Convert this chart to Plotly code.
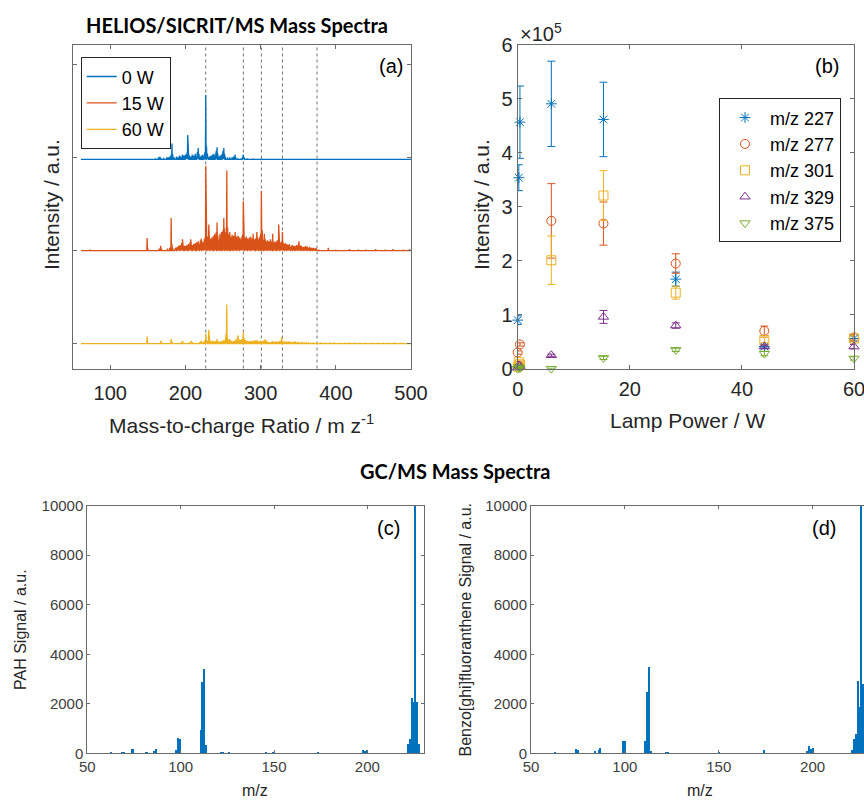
import plotly.graph_objects as go

# ---------------- HELIOS/SICRIT/MS spectra (relative intensity, stacked) ----------------
spec_labels = ["0 W", "15 W", "60 W"]
spec_colors = ["#0072BD", "#D95319", "#EDB120"]
spec_offsets = [1.98, 1.0, 0.0]

# 0 W spectrum: peak m/z and height
mz_0w = [150, 160, 164, 166, 168, 171, 175, 177, 179, 181, 182, 183, 185, 188, 190, 192, 194,
         196, 198, 200, 201, 202, 203, 204, 205, 207, 209, 211, 213, 215, 216, 217, 218, 219,
         221, 223, 225, 226, 227, 228, 229, 230, 232, 234, 236, 238, 240, 241, 242, 243, 244,
         246, 248, 249, 250, 251, 252, 253, 256, 259, 262, 264, 266, 267, 270, 274, 276, 277,
         278, 282, 290, 301]
h_0w = [0.005, 0.01, 0.02, 0.03, 0.01, 0.015, 0.02, 0.02, 0.03, 0.05, 0.17, 0.05, 0.02, 0.03,
        0.02, 0.04, 0.03, 0.05, 0.04, 0.05, 0.04, 0.07, 0.26, 0.08, 0.04, 0.03, 0.05, 0.04, 0.06,
        0.05, 0.08, 0.12, 0.06, 0.03, 0.04, 0.05, 0.06, 0.08, 0.69, 0.14, 0.06, 0.04, 0.03, 0.04,
        0.05, 0.06, 0.07, 0.09, 0.13, 0.06, 0.03, 0.04, 0.05, 0.07, 0.09, 0.12, 0.06, 0.03, 0.02,
        0.02, 0.02, 0.03, 0.05, 0.02, 0.01, 0.01, 0.02, 0.05, 0.02, 0.005, 0.005, 0.01]

# 15 W spectrum: isolated peaks plus a dense band of unit-mass peaks from m/z 186 to 375
mz_15w = [73, 149, 150, 165, 167, 168, 176, 179, 181, 182, 183,
          378, 390, 400, 418, 430, 440, 453, 466, 476, 490, 498]
h_15w = [0.01, 0.135, 0.02, 0.02, 0.05, 0.02, 0.02, 0.03, 0.35, 0.07, 0.03,
         0.01, 0.03, 0.01, 0.015, 0.01, 0.01, 0.015, 0.01, 0.015, 0.01, 0.015]
band_start_15w = 186
band_15w = [
    0.02, 0.03, 0.02, 0.04, 0.03, 0.05, 0.04, 0.06, 0.05, 0.08,
    0.12, 0.07, 0.05, 0.04, 0.05, 0.04, 0.06, 0.05, 0.07, 0.06,
    0.09, 0.12, 0.08, 0.06, 0.05, 0.07, 0.06, 0.08, 0.07, 0.09,
    0.08, 0.10, 0.07, 0.09, 0.11, 0.13, 0.10, 0.08, 0.09, 0.12,
    0.14, 0.91, 0.22, 0.15, 0.12, 0.28, 0.16, 0.13, 0.11, 0.14,
    0.12, 0.16, 0.13, 0.18, 0.15, 0.20, 0.30, 0.16, 0.14, 0.15,
    0.18, 0.14, 0.20, 0.17, 0.22, 0.35, 0.24, 0.18, 0.20, 0.86,
    0.25, 0.18, 0.16, 0.20, 0.15, 0.14, 0.17, 0.13, 0.16, 0.14,
    0.20, 0.12, 0.15, 0.13, 0.16, 0.12, 0.14, 0.11, 0.13, 0.15,
    0.17, 0.53, 0.20, 0.14, 0.12, 0.15, 0.11, 0.13, 0.10, 0.14,
    0.12, 0.15, 0.11, 0.13, 0.18, 0.12, 0.10, 0.13, 0.11, 0.20,
    0.14, 0.12, 0.10, 0.15, 0.18, 0.64, 0.22, 0.13, 0.11, 0.18,
    0.12, 0.10, 0.09, 0.11, 0.08, 0.10, 0.09, 0.12, 0.10, 0.08,
    0.18, 0.09, 0.08, 0.10, 0.07, 0.09, 0.11, 0.08, 0.28, 0.12,
    0.09, 0.08, 0.10, 0.20, 0.09, 0.07, 0.06, 0.08, 0.06, 0.07,
    0.05, 0.06, 0.07, 0.05, 0.04, 0.05, 0.06, 0.04, 0.05, 0.04,
    0.05, 0.04, 0.06, 0.05, 0.07, 0.10, 0.06, 0.04, 0.05, 0.03,
    0.04, 0.03, 0.04, 0.03, 0.05, 0.03, 0.04, 0.03, 0.03, 0.04,
    0.03, 0.02, 0.03, 0.02, 0.03, 0.02, 0.02, 0.03, 0.02, 0.02,
]

# 60 W spectrum
mz_60w = [73, 149, 150, 167, 168, 180, 181, 182, 194, 196, 197, 205, 207, 208, 209, 218, 220,
          221, 222, 224, 226, 227, 228, 229, 231, 232, 234, 236, 238, 240, 242, 243, 245, 247,
          249, 251, 253, 254, 255, 256, 257, 259, 261, 263, 265, 267, 269, 270, 271, 273, 275,
          277, 278, 280, 282, 284, 286, 288, 290, 292, 294, 296, 298, 300, 302, 304, 306, 308,
          310, 312, 314, 316, 318, 320, 322, 324, 326, 328, 330, 332, 334, 336, 338, 340, 342,
          344, 346, 348, 350, 352, 355, 358, 361, 364, 367, 370, 375, 380, 386, 392, 398, 405,
          412, 418, 425, 432, 440, 448, 456, 463, 470, 478, 486]
h_60w = [0.005, 0.08, 0.01, 0.03, 0.01, 0.015, 0.05, 0.015, 0.01, 0.03, 0.01, 0.015, 0.025,
         0.03, 0.015, 0.015, 0.02, 0.03, 0.015, 0.02, 0.04, 0.11, 0.04, 0.03, 0.15, 0.05, 0.03,
         0.025, 0.03, 0.025, 0.05, 0.03, 0.02, 0.025, 0.03, 0.04, 0.06, 0.10, 0.42, 0.07, 0.04,
         0.05, 0.03, 0.025, 0.03, 0.05, 0.06, 0.09, 0.05, 0.04, 0.05, 0.12, 0.06, 0.04, 0.03,
         0.025, 0.03, 0.025, 0.03, 0.035, 0.04, 0.03, 0.025, 0.03, 0.025, 0.035, 0.05, 0.03,
         0.02, 0.015, 0.02, 0.025, 0.02, 0.025, 0.02, 0.025, 0.03, 0.07, 0.025, 0.02, 0.025,
         0.02, 0.025, 0.02, 0.015, 0.02, 0.025, 0.015, 0.02, 0.015, 0.02, 0.015, 0.02, 0.015,
         0.01, 0.015, 0.01, 0.015, 0.01, 0.015, 0.01, 0.012, 0.01, 0.015, 0.01, 0.01, 0.012,
         0.01, 0.01, 0.01, 0.012, 0.015, 0.01]

marker_mz = [227, 277, 301, 329, 375]
spec_ticks_x = [100, 200, 300, 400, 500]

# ---------------- Ion intensity vs lamp power ----------------
lamp_power = [0, 0.2, 0.4, 6, 15.3, 28.2, 44, 60]
ion_labels = ["m/z 227", "m/z 277", "m/z 301", "m/z 329", "m/z 375"]
ion_colors = ["#0072BD", "#D95319", "#EDB120", "#7E2F8E", "#77AC30"]
ion_symbols = ["asterisk-open", "circle-open", "square-open", "triangle-up-open", "triangle-down-open"]
ion_values = [
    [0.90e5, 3.54e5, 4.57e5, 4.91e5, 4.62e5, 1.66e5, 0.41e5, 0.56e5],
    [0.30e5, 0.06e5, 0.45e5, 2.74e5, 2.69e5, 1.95e5, 0.70e5, 0.58e5],
    [0.04e5, 0.12e5, 0.08e5, 2.01e5, 3.21e5, 1.41e5, 0.53e5, 0.56e5],
    [0.02e5, 0.06e5, 0.05e5, 0.25e5, 0.96e5, 0.80e5, 0.41e5, 0.41e5],
    [0.00e5, 0.03e5, 0.01e5, 0.00e5, 0.20e5, 0.35e5, 0.28e5, 0.19e5],
]
ion_errors = [
    [0.08e5, 0.24e5, 0.67e5, 0.79e5, 0.69e5, 0.13e5, 0.03e5, 0.05e5],
    [0.03e5, 0.01e5, 0.03e5, 0.69e5, 0.40e5, 0.18e5, 0.09e5, 0.05e5],
    [0.01e5, 0.02e5, 0.01e5, 0.45e5, 0.46e5, 0.12e5, 0.05e5, 0.05e5],
    [0.01e5, 0.01e5, 0.01e5, 0.02e5, 0.12e5, 0.05e5, 0.03e5, 0.04e5],
    [0.01e5, 0.01e5, 0.01e5, 0.01e5, 0.03e5, 0.03e5, 0.04e5, 0.03e5],
]
power_ticks = [0, 20, 40, 60]
intensity_ticks = [0, 1e5, 2e5, 3e5, 4e5, 5e5, 6e5]
intensity_ticktext = ["0", "1", "2", "3", "4", "5", "6"]

# ---------------- GC/MS spectra ----------------
pah_mz = [63, 69, 70, 74, 75, 82, 86, 87, 98, 99, 100, 111, 112, 113, 114, 122, 123, 126,
          146, 150, 174, 198, 199, 200, 222, 223, 224, 225, 226, 227, 228]
pah_signal = [40, 80, 50, 180, 200, 50, 120, 200, 130, 650, 600, 950, 2900, 3400, 330, 40, 40,
              30, 30, 40, 50, 150, 100, 130, 400, 600, 2250, 2100, 12000, 2100, 400]

bghif_mz = [63, 74, 75, 84, 86, 87, 99, 100, 111, 112, 113, 114, 122, 123, 150, 174,
            197, 198, 199, 200, 221, 222, 223, 224, 225, 226, 227]
bghif_signal = [80, 180, 150, 100, 150, 220, 500, 520, 520, 2500, 3500, 100, 80, 80, 60, 130,
                100, 300, 200, 220, 130, 600, 780, 2950, 1900, 12000, 2800]
gc_ticks_x = [50, 100, 150, 200]
gc_ticks_y = [0, 2000, 4000, 6000, 8000, 10000]
gc_ticktext_y = ["0", "2000", "4000", "6000", "8000", "10000"]


def stick_line(mz, h, offset, start=61, end=500):
    """Continuous spectrum line made of narrow spikes at each peak."""
    pairs = sorted(zip(mz, h))
    xs, ys = [start], [offset]
    for m, v in pairs:
        xs += [m - 0.45, m, m + 0.45]
        ys += [offset, offset + v, offset]
    xs.append(end)
    ys.append(offset)
    return xs, ys


W, H = 864, 800
def px(x):
    return x / W
def py(y):
    return 1 - y / H

FONT = "Liberation Sans, Arial, sans-serif"
TXT = "#262626"
AX = "#6b6b6b"

fig = go.Figure()

# ---- spectra traces
full_15w_mz = mz_15w + [band_start_15w + i for i in range(len(band_15w))]
full_15w_h = h_15w + band_15w
spectra = [(mz_0w, h_0w), (full_15w_mz, full_15w_h), (mz_60w, h_60w)]
for (mz, h), lab, col, off in zip(spectra, spec_labels, spec_colors, spec_offsets):
    xs, ys = stick_line(mz, h, off)
    fig.add_trace(go.Scatter(x=xs, y=ys, mode="lines", name=lab,
                             line=dict(color=col, width=1.3),
                             xaxis="x", yaxis="y", legend="legend"))

for m in marker_mz:
    fig.add_shape(type="line", x0=m, x1=m, y0=0, y1=1, xref="x", yref="y domain",
                  line=dict(color="#6e6e6e", width=1, dash="dot"), layer="below")

# ---- lamp power traces
for vals, errs, lab, col, sym in zip(ion_values, ion_errors, ion_labels, ion_colors, ion_symbols):
    fig.add_trace(go.Scatter(
        x=lamp_power, y=vals, mode="markers", name=lab,
        marker=dict(symbol=sym, size=9, color=col, line=dict(color=col, width=1)),
        error_y=dict(type="data", array=errs, visible=True, color=col, thickness=1, width=4),
        cliponaxis=False, xaxis="x2", yaxis="y2", legend="legend2"))

# ---- GC/MS bars
fig.add_trace(go.Bar(x=pah_mz, y=pah_signal, width=0.85, marker=dict(color="#0072BD", line=dict(width=0)),
                     showlegend=False, xaxis="x3", yaxis="y3"))
fig.add_trace(go.Bar(x=bghif_mz, y=bghif_signal, width=0.6, marker=dict(color="#0072BD", line=dict(width=0)),
                     showlegend=False, xaxis="x4", yaxis="y4"))

common = dict(showgrid=False, zeroline=False, showline=True, linecolor=AX, linewidth=1,
              ticks="inside", tickcolor=AX, mirror="ticks", automargin=False,
              ticklabeloverflow="allow")
big_tick = dict(size=20, color=TXT, family=FONT)
small_tick = dict(size=15, color="#404040", family=FONT)

fig.update_layout(
    width=W, height=H, autosize=False,
    margin=dict(l=0, r=0, t=0, b=0, pad=0, autoexpand=False),
    paper_bgcolor="white", plot_bgcolor="white",
    font=dict(family=FONT, color=TXT),
    xaxis=dict(domain=[px(72.7), px(411)], range=[50, 500], tickvals=spec_ticks_x,
               ticklen=4, tickfont=big_tick, ticklabelstandoff=6, anchor="y", **common),
    yaxis=dict(domain=[py(368.5), py(44.7)], range=[-0.266, 3.21], tickvals=[0, 1, 2, 3],
               showticklabels=False, ticklen=4, anchor="x", **common),
    xaxis2=dict(domain=[px(517.7), px(854)], range=[0, 60], tickvals=power_ticks,
                ticklen=4, tickfont=big_tick, ticklabelstandoff=2, anchor="y2", **common),
    yaxis2=dict(domain=[py(368.7), py(45)], range=[0, 6e5], tickvals=intensity_ticks,
                ticktext=intensity_ticktext, ticklen=4, tickfont=big_tick, anchor="x2", **common),
    xaxis3=dict(domain=[px(87.3), px(424.3)], range=[50, 230.5], tickvals=gc_ticks_x,
                ticklen=3, tickfont=small_tick, anchor="y3", **common),
    yaxis3=dict(domain=[py(753.3), py(505.7)], range=[0, 10000], tickvals=gc_ticks_y,
                ticktext=gc_ticktext_y, ticklen=3, tickfont=small_tick, anchor="x3", **common),
    xaxis4=dict(domain=[px(531), 1.0], range=[50, 227.4], tickvals=gc_ticks_x,
                ticklen=3, tickfont=small_tick, anchor="y4", **common),
    yaxis4=dict(domain=[py(753.3), py(505.7)], range=[0, 10000], tickvals=gc_ticks_y,
                ticktext=gc_ticktext_y, ticklen=3, tickfont=small_tick, anchor="x4",
                showgrid=False, zeroline=False, showline=True, linecolor=AX, linewidth=1,
                ticks="inside", tickcolor=AX, mirror=False, automargin=False),
    bargap=0,
    legend=dict(x=px(80.7), y=py(57.3), xanchor="left", yanchor="top",
                bgcolor="white", bordercolor=TXT, borderwidth=1,
                font=dict(size=18, color="#000000", family=FONT), tracegroupgap=0),
    legend2=dict(x=px(719), y=py(98.3), xanchor="left", yanchor="top",
                 bgcolor="white", bordercolor=TXT, borderwidth=1, itemwidth=40,
                 font=dict(size=18, color="#000000", family=FONT), tracegroupgap=0),
)

ann = []
def label(text, x, y, size, color=TXT, angle=0, family=FONT, xanchor="center"):
    ann.append(dict(text=text, x=px(x), y=py(y), xref="paper", yref="paper",
                    xanchor=xanchor, yanchor="middle", showarrow=False, textangle=angle,
                    font=dict(size=size, color=color, family=family)))

TITLE_FONT = "Lato, Open Sans, sans-serif"
label("<b>HELIOS/SICRIT/MS Mass Spectra</b>", 237, 25, 20, "#000000", family=TITLE_FONT)
label("<b>GC/MS Mass Spectra</b>", 455, 471, 20, "#000000", family=TITLE_FONT)

label("Intensity / a.u.", 52, 205, 21, angle=-90)
label("Mass-to-charge Ratio / m z<sup>-1</sup>", 241, 424, 21)
label("Intensity / a.u.", 482, 205, 21, angle=-90)
label("Lamp Power / W", 687, 420, 21)
label("×10<sup>5</sup>", 518, 32, 20, xanchor="left")
label("(a)", 391, 66, 20, "#000000")
label("(b)", 827, 66, 20, "#000000")

label("(c)", 388, 528, 20, "#000000")
label("(d)", 824, 528, 20, "#000000")
label("PAH Signal / a.u.", 20, 630, 16, angle=-90)
label("Benzo[ghi]fluoranthene Signal / a.u.", 465, 629.5, 16, angle=-90)
label("m/z", 255, 790, 16)
label("m/z", 700, 790, 16)

fig.update_layout(annotations=ann)

fig.write_html("out.html",
               post_script="document.body.style.margin='0';document.body.style.padding='0';")
